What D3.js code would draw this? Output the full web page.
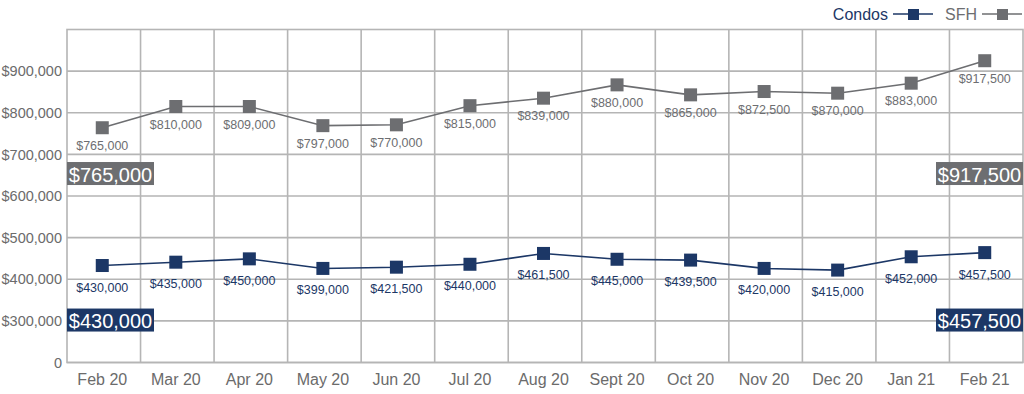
<!DOCTYPE html>
<html>
<head>
<meta charset="utf-8">
<script src="https://cdn.jsdelivr.net/npm/d3@7"></script>
<style>
  body { margin: 0; background: #fff; }
  svg text { font-family: "Liberation Sans", Arial, sans-serif; }
</style>
</head>
<body>
<div id="chart"></div>
<script>
//data
let months = ['Feb 20', 'Mar 20', 'Apr 20', 'May 20', 'Jun 20', 'Jul 20', 'Aug 20', 'Sept 20', 'Oct 20', 'Nov 20', 'Dec 20', 'Jan 21', 'Feb 21'];
//plotted positions (as drawn) and the printed labels
let sfhValues = [764000, 815000, 815000, 769000, 771000, 817000, 835000, 867000, 843000, 851000, 847000, 871000, 925000];
let sfhLabels = ['$765,000', '$810,000', '$809,000', '$797,000', '$770,000', '$815,000', '$839,000', '$880,000', '$865,000', '$872,500', '$870,000', '$883,000', '$917,500'];
let condoValues = [433000, 441000, 449000, 426000, 429000, 436000, 462000, 448000, 446000, 426000, 422000, 454000, 464000];
let condoLabels = ['$430,000', '$435,000', '$450,000', '$399,000', '$421,500', '$440,000', '$461,500', '$445,000', '$439,500', '$420,000', '$415,000', '$452,000', '$457,500'];
let yTicks = [200000, 300000, 400000, 500000, 600000, 700000, 800000, 900000];

//dimensions
let w = 1024;
let h = 394;
let plotLeft = 67;
let plotRight = 1023;
let plotTop = 29.5;
let plotBottom = 362.5;

let navy = '#1c3766';
let gray = '#6d6e71';
let grid = '#b5b5b5';

let svg = d3.select('#chart').
append('svg').
attr('width', w).
attr('height', h);

//scales
let xBand = d3.scaleBand().domain(months).range([plotLeft, plotRight]);
let x = d => xBand(d) + xBand.bandwidth() / 2 - 1.5;

//the original axis skips from 0 straight to 300,000, so the bottom line sits at 200k
let yScale = d3.scaleLinear().domain([200000, 1000000]).range([plotBottom, plotTop]);
let fmt = d3.format('$,');

//grid
svg.append('g').
selectAll('line').
data(yTicks).
enter().
append('line').
attr('x1', plotLeft).
attr('x2', plotRight).
attr('y1', d => yScale(d)).
attr('y2', d => yScale(d)).
attr('stroke', grid).
attr('stroke-width', 1.6);

svg.append('g').
selectAll('line').
data(months.slice(1)).
enter().
append('line').
attr('x1', d => xBand(d)).
attr('x2', d => xBand(d)).
attr('y1', plotTop).
attr('y2', plotBottom).
attr('stroke', grid).
attr('stroke-width', 1.6);

svg.append('rect').
attr('x', plotLeft).
attr('y', plotTop).
attr('width', plotRight - plotLeft).
attr('height', plotBottom - plotTop).
attr('fill', 'none').
attr('stroke', grid).
attr('stroke-width', 1.6);

//y axis
let yAxis = d3.axisLeft(yScale).
tickValues(yTicks).
tickSize(0).
tickPadding(5).
tickFormat(d => d === 200000 ? '0' : fmt(d));

let yG = svg.append('g').
attr('transform', 'translate(' + plotLeft + ',0)').
call(yAxis);
yG.select('.domain').remove();
yG.selectAll('text').
attr('fill', '#6b6b6b').
style('font-size', '14.5px');

//x axis
let xAxis = d3.axisBottom(xBand).tickSize(0).tickPadding(11);
let xG = svg.append('g').
attr('transform', 'translate(-1.5,' + plotBottom + ')').
call(xAxis);
xG.select('.domain').remove();
xG.selectAll('text').
attr('fill', '#6b6b6b').
style('font-size', '16px');

//series
let line = d3.line().
x((d, i) => x(months[i])).
y(d => yScale(d));

function drawSeries(values, labels, color, labelDy) {
  let g = svg.append('g');
  g.append('path').
  datum(values).
  attr('d', line).
  attr('fill', 'none').
  attr('stroke', color).
  attr('stroke-width', 1.6);

  g.selectAll('rect').
  data(values).
  enter().
  append('rect').
  attr('x', (d, i) => x(months[i]) - 6.5).
  attr('y', d => yScale(d) - 6.5).
  attr('width', 13).
  attr('height', 13).
  attr('fill', color);

  g.selectAll('text').
  data(values).
  enter().
  append('text').
  attr('x', (d, i) => x(months[i])).
  attr('y', d => yScale(d) + labelDy).
  attr('text-anchor', 'middle').
  attr('dominant-baseline', 'central').
  attr('fill', color).
  style('font-size', '12.5px').
  text((d, i) => labels[i]);
}

drawSeries(sfhValues, sfhLabels, gray, 18);
drawSeries(condoValues, condoLabels, navy, 22);

//start / end callouts
function callout(text, color, value, anchor) {
  let bw = 87;
  let bh = 23;
  let bx = anchor === 'start' ? plotLeft : plotRight - bw;
  let by = yScale(value) - bh / 2;
  svg.append('rect').
  attr('x', bx).
  attr('y', by).
  attr('width', bw).
  attr('height', bh).
  attr('fill', color);
  svg.append('text').
  attr('x', bx + bw / 2).
  attr('y', by + bh / 2 + 1).
  attr('text-anchor', 'middle').
  attr('dominant-baseline', 'central').
  attr('fill', '#fff').
  style('font-size', '20px').
  text(text);
}

callout(sfhLabels[0], gray, 654000, 'start');
callout(sfhLabels[sfhLabels.length - 1], gray, 654000, 'end');
callout(condoLabels[0], navy, 302000, 'start');
callout(condoLabels[condoLabels.length - 1], navy, 302000, 'end');

//legend
let legendItems = [
{ name: 'Condos', color: navy, x: 888 },
{ name: 'SFH', color: gray, x: 977 }];

let lg = svg.append('g').attr('transform', 'translate(0,14)');
legendItems.forEach(d => {
  lg.append('text').
  attr('x', d.x).
  attr('y', 0).
  attr('text-anchor', 'end').
  attr('dominant-baseline', 'central').
  attr('fill', d.color).
  style('font-size', '16px').
  text(d.name);
  lg.append('line').
  attr('x1', d.x + 5).
  attr('x2', d.x + 45).
  attr('y1', 0).
  attr('y2', 0).
  attr('stroke', d.color).
  attr('stroke-width', 1.6);
  lg.append('rect').
  attr('x', d.x + 20).
  attr('y', -5).
  attr('width', 11).
  attr('height', 11).
  attr('fill', d.color);
});
</script>
</body>
</html>
